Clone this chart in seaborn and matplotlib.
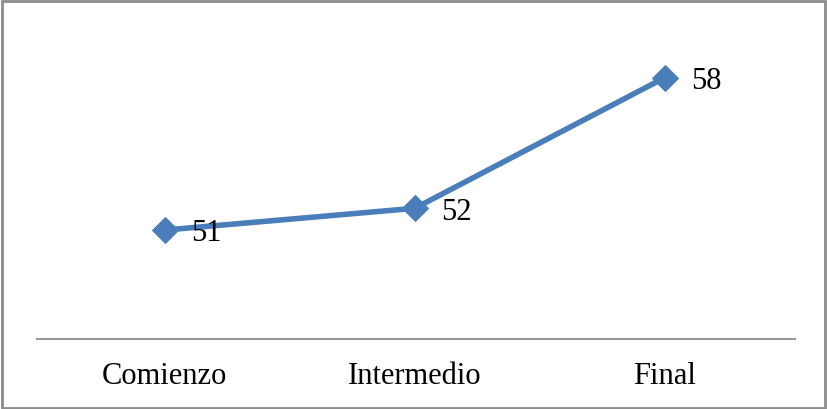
import pandas as pd
import matplotlib
matplotlib.use("Agg")
import matplotlib.pyplot as plt
import seaborn as sns
from matplotlib.patches import Rectangle

etapas = ["Comienzo", "Intermedio", "Final"]
valores = [51, 52, 58]


def main():
    sns.set_style("white")
    plt.rcParams["font.family"] = ["Liberation Serif", "DejaVu Serif"]

    df = pd.DataFrame({"etapa": etapas, "valor": valores})
    df["pos"] = range(len(df))

    fig = plt.figure(figsize=(8.27, 4.10), dpi=100)
    ax = fig.add_axes([37 / 827, 70 / 410, 758 / 827, 305 / 410])

    sns.lineplot(data=df, x="pos", y="valor", ax=ax, color="#4A7EBB",
                 linewidth=4, marker="D", markersize=13,
                 markeredgecolor="#4A7EBB")

    for p, v in zip(df["pos"], df["valor"]):
        ax.annotate(str(v), (p, v), xytext=(19, -2), textcoords="offset points",
                    ha="left", va="center", fontsize=22, color="black")

    ax.set_xlim(-0.51, 2.52)
    ax.set_ylim(46, 60)
    ax.set_xticks(df["pos"])
    ax.set_xticklabels(etapas, fontsize=22, color="black")
    ax.tick_params(axis="x", length=0, pad=16)
    ax.set_yticks([])
    ax.set_xlabel("")
    ax.set_ylabel("")
    for s in ["top", "left", "right"]:
        ax.spines[s].set_visible(False)
    ax.spines["bottom"].set_color("#999999")
    ax.spines["bottom"].set_linewidth(1.5)

    fig.patches.append(Rectangle((0.002, 0.003), 0.996, 0.993, transform=fig.transFigure,
                                 fill=False, edgecolor="#8c8c8c", linewidth=2))

    fig.savefig("out.png", dpi=100)


if __name__ == "__main__":
    main()
